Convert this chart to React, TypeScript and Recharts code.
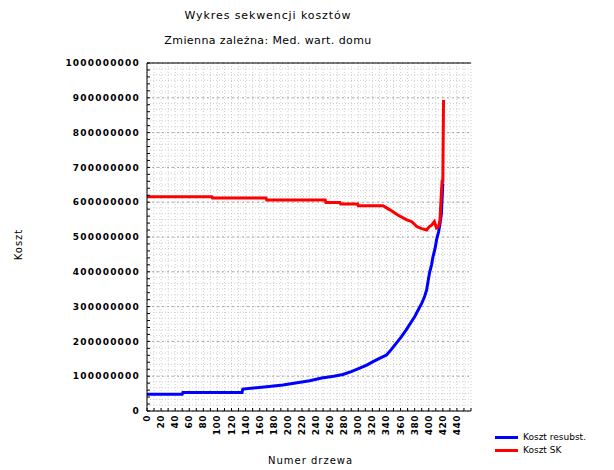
import { LineChart, Line, XAxis, YAxis, CartesianGrid } from "recharts";

// Koszt resubst. (blue)
const RESUB_TREE = [0, 50, 51, 135, 136, 170, 193, 213, 231, 248, 265, 278, 290, 302, 312, 321, 330, 340, 347, 354, 361, 368, 374, 380, 385, 390, 394, 397, 399, 401, 404, 406, 409, 411, 414, 416, 418, 420];
const RESUB_COST = [48e6, 48e6, 53e6, 53e6, 63e6, 70e6, 75e6, 81e6, 87e6, 95e6, 100e6, 105e6, 113e6, 123e6, 132e6, 142e6, 151e6, 161e6, 177e6, 195e6, 213e6, 233e6, 252e6, 271e6, 290e6, 309e6, 328e6, 348e6, 372e6, 396e6, 420e6, 443e6, 467e6, 491e6, 515e6, 539e6, 568e6, 654e6];

// Koszt SK (red)
const SK_TREE = [0, 92, 93, 118, 120, 169, 170, 253, 254, 274, 275, 299, 300, 335, 345, 356, 369, 376, 383, 390, 397, 401, 404, 408, 411, 414, 416, 418, 419, 420, 421];
const SK_COST = [616e6, 616e6, 612e6, 612e6, 612e6, 612e6, 606e6, 606e6, 599e6, 599e6, 595e6, 595e6, 590e6, 590e6, 578e6, 563e6, 549e6, 544e6, 530e6, 524e6, 520e6, 530e6, 534e6, 544e6, 526e6, 530e6, 549e6, 630e6, 660e6, 660e6, 894e6];

const X_LABELS = [0, 20, 40, 60, 80, 100, 120, 140, 160, 180, 200, 220, 240, 260, 280, 300, 320, 340, 360, 380, 400, 420, 440];
const Y_LABELS = [0, 100000000, 200000000, 300000000, 400000000, 500000000, 600000000, 700000000, 800000000, 900000000, 1000000000];

const X_TICKS = Array.from({ length: 47 }, (_, i) => i * 10);
const Y_TICKS = Array.from({ length: 51 }, (_, i) => i * 20000000);
const H_DOTS = Array.from({ length: 61 }, (_, i) => (i * 1e9) / 60);

const resubData = RESUB_TREE.map((t, i) => ({ tree: t, cost: RESUB_COST[i] }));
const skData = SK_TREE.map((t, i) => ({ tree: t, cost: SK_COST[i] }));

const FONT = "DejaVu Sans";

const XTick = ({ x, y, payload }: any) => {
  if (!X_LABELS.includes(payload.value)) return <g />;
  return (
    <text
      x={x}
      y={y}
      transform={`rotate(-90 ${x} ${y})`}
      textAnchor="end"
      dominantBaseline="central"
      fontFamily={FONT}
      fontWeight="bold"
      fontSize={9}
      letterSpacing={0.5}
      fill="#000"
    >
      {payload.value}
    </text>
  );
};

const abs = (left: number, top: number, extra: any = {}) => ({
  position: "absolute" as const,
  left,
  top,
  fontFamily: FONT,
  color: "#000",
  whiteSpace: "nowrap" as const,
  ...extra,
});

export default function App() {
  return (
    <div style={{ position: "absolute", left: 0, top: 0, width: 614, height: 470, background: "#fff" }}>
      <LineChart width={614} height={470} margin={{ top: 63, right: 143, bottom: 29, left: 0 }}>
        <CartesianGrid stroke="#cfcfcf" strokeDasharray="1 2" horizontalValues={H_DOTS} />
        <CartesianGrid stroke="#a8a8a8" strokeDasharray="2 3" vertical={false} horizontalValues={Y_LABELS} />
        <XAxis
          type="number"
          dataKey="tree"
          domain={[0, 460]}
          ticks={X_TICKS}
          interval={0}
          allowDataOverflow
          height={30}
          stroke="#000"
          tickSize={-3}
          tickMargin={7}
          tick={<XTick />}
        />
        <XAxis
          xAxisId="top"
          orientation="top"
          type="number"
          domain={[0, 460]}
          ticks={X_TICKS}
          interval={0}
          mirror
          tick={false}
          tickSize={3}
          stroke="#000"
        />
        <YAxis
          type="number"
          domain={[0, 1000000000]}
          ticks={Y_TICKS}
          interval={0}
          width={147}
          stroke="#000"
          tickSize={-3}
          tickMargin={10}
          tickFormatter={(v: number) => (v % 100000000 === 0 ? String(v) : "")}
          tick={{ fontFamily: FONT, fontWeight: "bold", fontSize: 9, fill: "#000", letterSpacing: 1.2 }}
        />
        <Line
          data={resubData}
          dataKey="cost"
          type="linear"
          stroke="#0000ff"
          strokeWidth={3}
          dot={false}
          isAnimationActive={false}
        />
        <Line
          data={skData}
          dataKey="cost"
          type="linear"
          stroke="#ff0000"
          strokeWidth={3}
          dot={false}
          isAnimationActive={false}
        />
      </LineChart>

      <div style={abs(0, 9, { width: 536, textAlign: "center", fontSize: 11, letterSpacing: 0.9 })}>
        Wykres sekwencji kosztów
      </div>
      <div style={abs(0, 34, { width: 536, textAlign: "center", fontSize: 11, letterSpacing: 0.4 })}>
        Zmienna zależna: Med. wart. domu
      </div>
      <div
        style={abs(-4, 239, {
          fontSize: 10,
          letterSpacing: 1,
          transform: "rotate(-90deg)",
          width: 44,
          textAlign: "center",
        })}
      >
        Koszt
      </div>
      <div style={abs(268, 455, { fontSize: 10, letterSpacing: 1 })}>Numer drzewa</div>

      <div style={abs(495, 431, { fontSize: 9, lineHeight: "13px" })}>
        <div style={{ display: "flex", alignItems: "center" }}>
          <span style={{ display: "inline-block", width: 23, height: 3, background: "#0000ff", marginRight: 5 }} />
          Koszt resubst.
        </div>
        <div style={{ display: "flex", alignItems: "center" }}>
          <span style={{ display: "inline-block", width: 23, height: 3, background: "#ff0000", marginRight: 5 }} />
          Koszt SK
        </div>
      </div>
    </div>
  );
}
